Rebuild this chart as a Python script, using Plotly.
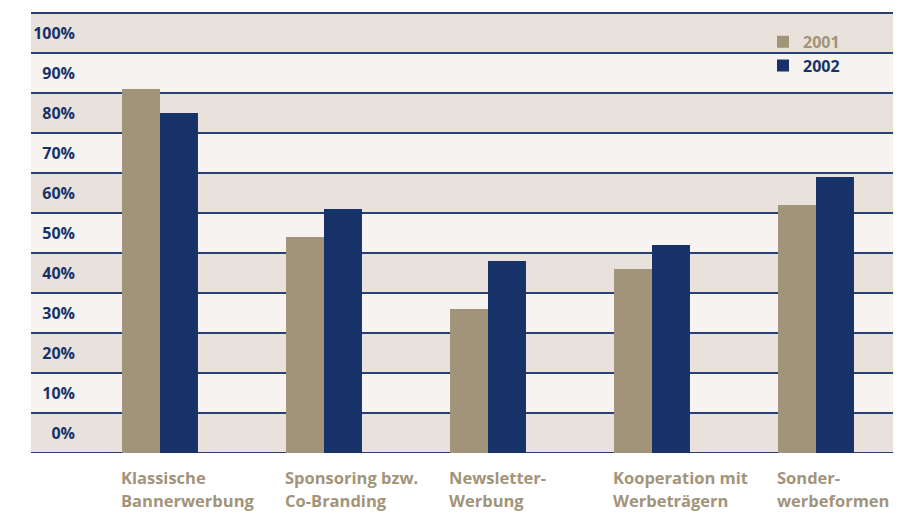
import plotly.graph_objects as go

categories = ["Klassische<br>Bannerwerbung", "Sponsoring bzw.<br>Co-Branding",
              "Newsletter-<br>Werbung", "Kooperation mit<br>Werbeträgern",
              "Sonder-<br>werbeformen"]
series_names = ["2001", "2002"]
values_2001 = [91, 54, 36, 46, 62]
values_2002 = [85, 61, 48, 52, 69]
tick_values = [0, 10, 20, 30, 40, 50, 60, 70, 80, 90, 100, 110]
tick_labels = ["0%", "10%", "20%", "30%", "40%", "50%", "60%", "70%", "80%", "90%", "100%", ""]

TAN = "#A2947A"
NAVY = "#163268"
BAND_DARK = "#E9E2DC"
BAND_LIGHT = "#F6F3F0"
LINE = "#2B3F70"
FONT = "Open Sans"

x_idx = list(range(len(categories)))

fig = go.Figure()
fig.add_trace(go.Bar(x=x_idx, y=values_2001, name=f"<span style='color:{TAN}'>{series_names[0]}</span>",
                     marker=dict(color=TAN, line=dict(width=0))))
fig.add_trace(go.Bar(x=x_idx, y=values_2002, name=f"<span style='color:{NAVY}'>{series_names[1]}</span>",
                     marker=dict(color=NAVY, line=dict(width=0))))

shapes = []
left_ext = -52 / 810
for i in range(len(tick_values) - 1):
    shapes.append(dict(type="rect", xref="paper", yref="y", x0=left_ext, x1=1,
                       y0=tick_values[i], y1=tick_values[i + 1],
                       fillcolor=BAND_DARK if i % 2 == 0 else BAND_LIGHT,
                       line=dict(width=0), layer="below"))
for v in tick_values:
    shapes.append(dict(type="line", xref="paper", yref="y", x0=left_ext, x1=1,
                       y0=v, y1=v, line=dict(color=LINE, width=1.8), layer="below"))

annotations = []
bar_half = 0.2317
for i, cat in enumerate(categories):
    for j, line in enumerate(cat.split("<br>")):
        annotations.append(dict(x=i - bar_half, xref="x", xanchor="left", xshift=-3,
                                y=0, yref="paper", yanchor="middle", yshift=-24 - 23 * j,
                                text=line, showarrow=False,
                                font=dict(family=FONT, size=16.5, color=TAN, weight="bold")))

fig.update_layout(
    width=900, height=513,
    margin=dict(l=83, r=7, t=12, b=60, autoexpand=False),
    paper_bgcolor="white", plot_bgcolor="rgba(0,0,0,0)",
    barmode="group", bargap=0.537, bargroupgap=0,
    showlegend=True,
    legend=dict(x=0.8395, y=0.971, xanchor="left", yanchor="top",
                bgcolor="rgba(0,0,0,0)", font=dict(family=FONT, size=16, weight="bold"),
                tracegroupgap=0),
    xaxis=dict(range=[-0.4695, 4.4695], showticklabels=False, showgrid=False,
               zeroline=False, showline=False, ticks="", automargin=False),
    yaxis=dict(range=[0, 110.25], tickvals=tick_values, ticktext=tick_labels,
               showgrid=False, zeroline=False, showline=False, ticks="", automargin=False,
               ticklabelshift=-20, ticklabelstandoff=7,
               tickfont=dict(family=FONT, size=16, color=NAVY, weight="bold")),
    shapes=shapes, annotations=annotations,
)

fig.write_html("out.html", config={"displayModeBar": False},
               post_script="document.body.style.margin='0';document.body.style.overflow='hidden';")
